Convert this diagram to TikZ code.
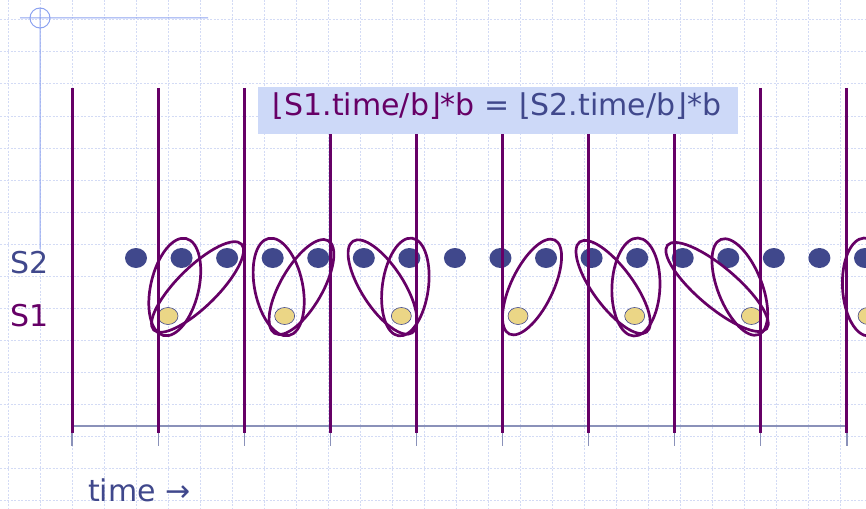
\documentclass[tikz,border=0pt]{standalone}
\usepackage{fontspec}
\setmainfont{DejaVu Sans}
\usetikzlibrary{calc,shapes.geometric}
\definecolor{plum}{HTML}{660066}
\definecolor{navy}{RGB}{64,72,140}
\definecolor{gridc}{HTML}{D3DBF5}
\definecolor{boxc}{HTML}{CDD9F8}
\definecolor{crossc}{HTML}{8DA3F0}
\definecolor{axisc}{HTML}{8A91B9}
\definecolor{sand}{HTML}{EBD686}

\begin{document}
\begin{tikzpicture}[x=1pt, y=-1pt,
  every node/.style={font=\fontsize{30}{35}\selectfont},
  bar/.style={plum, line width=3pt},
  grp/.style={draw=plum, line width=2.7pt, ellipse, inner sep=0pt, outer sep=0pt},
  sdot/.style={ellipse, fill=navy, minimum width=22pt, minimum height=20pt, inner sep=0pt},
  rdot/.style={ellipse, fill=sand, draw=navy, line width=0.6pt, minimum width=20pt, minimum height=17pt, inner sep=0pt}]
\useasboundingbox (0,0) rectangle (866,508);
\foreach \y in {20,52,...,500} \draw[gridc, line width=1pt, dash pattern=on 2pt off 1.5pt] (0,\y) -- (866,\y);
\foreach \x in {8,40,...,840} \draw[gridc, line width=1pt, dash pattern=on 2pt off 1.5pt] (\x,0) -- (\x,508);
\draw[crossc, line width=1pt] (20,18) -- (208,18) (40,8) -- (40,249) (40,18) circle (10pt);

\foreach \k in {0,...,16} \node[sdot] (q\k) at ({136+45.56*\k},258) {};
\foreach \j in {0,...,6} \node[rdot] (p\j) at ({168+116.67*\j},316) {};

\draw[axisc, line width=1.5pt] (72,426) -- (847,426);
\foreach \i in {0,...,9} \draw[axisc, line width=1.2pt] ({72+86.1*\i},426) -- ({72+86.1*\i},446);
\foreach \i in {0,...,9} \draw[bar] ({72+86.1*\i},88) -- ({72+86.1*\i},433);

\node[fill=boxc, minimum width=480pt, minimum height=47pt, inner sep=0pt] (box) at (498,110.5) {};
\node[anchor=base, inner sep=0pt] (eq) at (497,116) {\textcolor{plum}{⌊S1.time/b⌋*b} \textcolor{navy}{= ⌊S2.time/b⌋*b}};

\foreach \a/\b/\w in {p0/q1/48, p0/q2/40, p1/q3/48, p1/q4/42, p2/q5/42, p2/q6/46, p3/q9/42, p4/q10/40, p4/q11/48, p5/q12/40, p5/q13/44, p6/q16/48}
  \path let \p1=($(\b)-(\a)$), \n1={atan2(\y1,\x1)}, \n2={veclen(\x1,\y1)+40} in ($(\a)!.5!(\b)$) node[grp, rotate=\n1, minimum width=\n2, minimum height=\w] {};

\node[navy, anchor=base west, inner sep=0pt] (s2lbl) at (10,273) {S2};
\node[plum, anchor=base west, inner sep=0pt] (s1lbl) at (10,326) {S1};
\node[navy, anchor=base west, inner sep=0pt] (timelbl) at (88,501) {time →};
\end{tikzpicture}
\end{document}
